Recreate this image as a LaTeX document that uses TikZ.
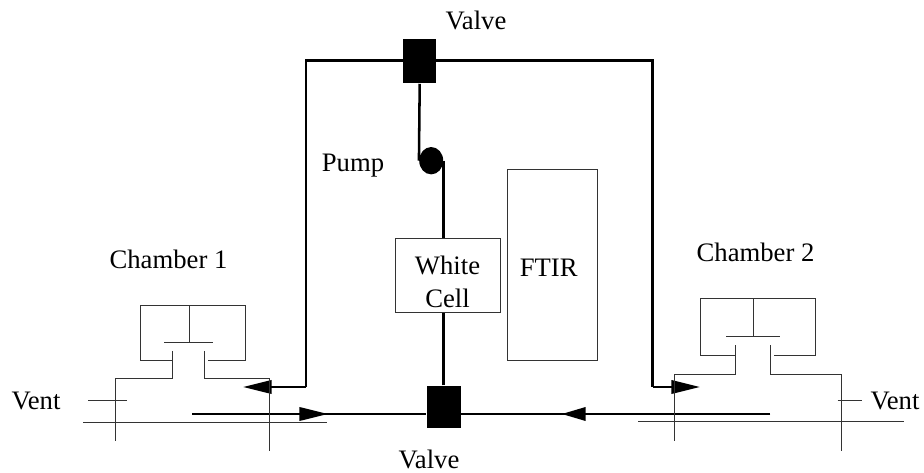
\documentclass[tikz,border=0pt]{standalone}
\usetikzlibrary{arrows.meta,shapes.geometric}
\usepackage{fontspec}
\setmainfont{Liberation Serif}

\begin{document}
\begin{tikzpicture}[x=0.75pt,y=-0.75pt,
    thin line/.style={line width=0.7pt,black!80},
    pipe/.style={line width=1.9pt},
    pipe head/.style={pipe,-{Triangle[length=21.5pt,width=10pt]}},
    short head/.style={pipe,-{Triangle[length=18pt,width=10pt]}},
    valve/.style={fill=black,inner sep=0pt,minimum width=24.5pt,minimum height=33pt},
    label/.style={font=\fontsize{20}{24.7}\selectfont,inner sep=0pt,align=center,anchor=base}]
    \useasboundingbox (0,0) rectangle (924,473);

    \node[valve] (valvetop) at (419.7,61.5) {};
    \node[valve,minimum width=25.5pt,minimum height=32pt] (valvebot) at (443.6,407) {};
    \node[ellipse,fill=black,inner sep=0pt,minimum width=18pt,minimum height=20.5pt] (pump) at (431.2,160.7) {};
    \node[draw,thin line,minimum width=79pt,minimum height=55.7pt] (whitecell) at (447.7,275.2) {};
    \node[draw,thin line,minimum width=67pt,minimum height=143.5pt] (ftir) at (552.5,265) {};

    \node[label] (lvalvetop) at (476,30) {Valve};
    \node[label] (lvalvebot) at (429,469) {Valve};
    \node[label] (lpump) at (353,171.7) {Pump};
    \node[label,anchor=center] (lcell) at (447.5,281.5) {White\\Cell};
    \node[label] (lftir) at (548.7,276.7) {FTIR};
    \node[label] (lchamberA) at (168.5,268.3) {Chamber 1};
    \node[label] (lchamberB) at (755.5,261.7) {Chamber 2};
    \node[label] (lventA) at (36,409.3) {Vent};
    \node[label] (lventB) at (895,409.3) {Vent};

    \coordinate (cornerA) at (306,60.7);
    \coordinate (cornerB) at (652.5,60.7);
    \coordinate (elbowA) at (306,387);
    \coordinate (elbowB) at (652.5,387);
    \coordinate (tipA) at (243,387);
    \coordinate (tipB) at (700,387);
    \coordinate (startA) at (192,414);
    \coordinate (startB) at (770,414);
    \coordinate (arrowA) at (328,414);
    \coordinate (arrowB) at (561.7,414);

    \draw[pipe] (valvetop.west |- cornerA) -- (cornerA) -- (elbowA);
    \draw[pipe] (valvetop.east |- cornerB) -- (cornerB) -- (elbowB);
    \draw[pipe head] (elbowA) -- (tipA);
    \draw[pipe head] (elbowB) -- (tipB);
    \draw[pipe] (valvetop.south) -- (pump.west);
    \draw[pipe] (pump.east) -- (pump.east |- whitecell.north);
    \draw[pipe] (valvebot.north) -- (valvebot.north |- whitecell.south);
    \draw[pipe] (startA) -- (valvebot.west |- startA);
    \draw[pipe] (startB) -- (valvebot.east |- startB);
    \draw[pipe head] (startA) -- (arrowA);
    \draw[short head] (startB) -- (arrowB);

    \foreach \s/\l/\r/\t/\b/\m/\pa/\pb/\ta/\tb/\oa/\ob/\y/\g in {
        A/140.3/245.7/305.7/360.3/189/164/212.7/172.3/204.7/115.7/269.3/342/378,
        B/700.3/815.3/298.3/355.3/753.7/726.3/780.3/735.7/770.7/674/841.3/336.7/374.3} {
        \draw[thin line] (\ta,\b) -- (\l,\b) -- (\l,\t) -- (\r,\t) -- (\r,\b) -- ({\tb+3.3},\b);
        \draw[thin line] (\m,\t) -- (\m,\y);
        \draw[thin line] (\pa,\y) -- (\pb,\y);
        \draw[thin line] (\ta,{\y+8.8}) -- (\ta,\g) -- (\oa,\g) -- (\oa,441);
        \draw[thin line] (\tb,{\y+8.8}) -- (\tb,\g) -- (\ob,\g) -- (\ob,450.7);
    }
    \draw[thin line] (88.3,400.7) -- (126.7,400.7);
    \draw[thin line] (837.7,400.7) -- (862.3,400.7);
    \draw[thin line] (83.3,422.7) -- (326.7,422.7);
    \draw[thin line] (638.3,421.7) -- (904,421.7);
\end{tikzpicture}
\end{document}
